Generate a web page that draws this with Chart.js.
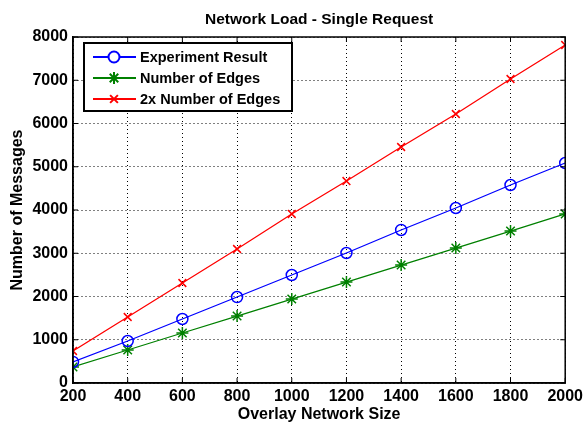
<!DOCTYPE html>
<html>
<head>
<meta charset="utf-8">
<script src="https://cdn.jsdelivr.net/npm/chart.js@4"></script>
<style>
  html, body { margin: 0; padding: 0; background: #fff; }
  #wrap { width: 587px; height: 428px; }
</style>
</head>
<body>
<div id="wrap"><canvas id="loadChart" width="587" height="428"></canvas></div>
<script>
// values
const networkSizes = [200, 400, 600, 800, 1000, 1200, 1400, 1600, 1800, 2000];
const experimentResult = [486, 971, 1480, 1988, 2497, 3006, 3538, 4046, 4578, 5087];
const numberOfEdges = [370, 763, 1156, 1549, 1942, 2335, 2728, 3121, 3514, 3908];
const twiceNumberOfEdges = [740, 1526, 2312, 3098, 3908, 4670, 5457, 6220, 7029, 7815];

const FONT = "'Liberation Sans', Arial, sans-serif";

function toPoints(ys) {
  return networkSizes.map((x, i) => ({ x: x, y: ys[i] }));
}

// MATLAB style box, inward ticks and a boxed legend inside the plot
const matlabFrame = {
  id: "matlabFrame",
  afterDraw(chart) {
    const { ctx, chartArea: a, scales } = chart;
    ctx.save();
    ctx.strokeStyle = "#000";
    ctx.lineWidth = 1;
    ctx.setLineDash([]);
    ctx.beginPath();
    scales.x.ticks.forEach((t) => {
      const px = scales.x.getPixelForValue(t.value);
      ctx.moveTo(px, a.bottom); ctx.lineTo(px, a.bottom - 5);
      ctx.moveTo(px, a.top); ctx.lineTo(px, a.top + 5);
    });
    scales.y.ticks.forEach((t) => {
      const py = scales.y.getPixelForValue(t.value);
      ctx.moveTo(a.left, py); ctx.lineTo(a.left + 5, py);
      ctx.moveTo(a.right, py); ctx.lineTo(a.right - 5, py);
    });
    ctx.stroke();
    ctx.lineWidth = 1.5;
    ctx.strokeRect(a.left, a.top, a.right - a.left, a.bottom - a.top);

    // legend
    const lx = a.left + 11, ly = a.top + 6, lw = 208, lh = 68;
    ctx.fillStyle = "#fff";
    ctx.fillRect(lx, ly, lw, lh);
    ctx.lineWidth = 2;
    ctx.strokeRect(lx, ly, lw, lh);
    ctx.font = "bold 14.5px " + FONT;
    ctx.textBaseline = "middle";
    chart.data.datasets.forEach((ds, i) => {
      const ry = ly + 14 + i * 21;
      ctx.strokeStyle = ds.borderColor;
      ctx.lineWidth = 2;
      ctx.beginPath();
      ctx.moveTo(lx + 9, ry); ctx.lineTo(lx + 52, ry);
      ctx.stroke();
      Chart.helpers.drawPoint(ctx, {
        pointStyle: ds.pointStyle,
        radius: ds.pointRadius,
        borderWidth: ds.pointBorderWidth,
        rotation: 0
      }, lx + 30, ry);
      ctx.fillStyle = "#000";
      ctx.fillText(ds.label, lx + 56, ry + 1);
    });
    ctx.restore();
  }
};

const data = {
  datasets: [
    {
      label: "Experiment Result",
      data: toPoints(experimentResult),
      borderColor: "#0000ff",
      backgroundColor: "rgba(0,0,0,0)",
      borderWidth: 1.3,
      pointStyle: "circle",
      pointRadius: 5.5,
      pointBorderWidth: 1.5,
      pointBorderColor: "#0000ff",
      pointBackgroundColor: "rgba(0,0,0,0)",
    },
    {
      label: "Number of Edges",
      data: toPoints(numberOfEdges),
      borderColor: "#008000",
      backgroundColor: "#008000",
      borderWidth: 1.3,
      pointStyle: "star",
      pointRadius: 6,
      pointBorderWidth: 1.5,
      pointBorderColor: "#008000",
    },
    {
      label: "2x Number of Edges",
      data: toPoints(twiceNumberOfEdges),
      borderColor: "#ff0000",
      backgroundColor: "#ff0000",
      borderWidth: 1.3,
      pointStyle: "crossRot",
      pointRadius: 5.5,
      pointBorderWidth: 1.5,
      pointBorderColor: "#ff0000",
    },
  ],
};

const tickFont = { family: FONT, size: 16, weight: "bold" };
const axisTitleFont = { family: FONT, size: 16, weight: "bold", lineHeight: 1.2 };

const config = {
  type: "line",
  data: data,
  options: {
    responsive: false,
    animation: false,
    layout: { padding: { left: 0, right: 19, top: 0, bottom: 0 } },
    elements: { line: { tension: 0, fill: false } },
    plugins: {
      legend: { display: false },
      tooltip: { enabled: false },
      title: {
        display: true,
        fullSize: false,
        text: "Network Load - Single Request",
        color: "#000",
        font: { family: FONT, size: 15.5, weight: "bold", lineHeight: 1.2 },
        padding: { top: 10, bottom: 8.4 },
      },
    },
    scales: {
      x: {
        type: "linear",
        min: 200,
        max: 2000,
        afterFit: (s) => { s.height = 45; },
        ticks: {
          stepSize: 200,
          color: "#000",
          padding: 4,
          maxRotation: 0,
          font: tickFont,
          callback: (v) => String(v),
        },
        grid: { color: "#000", lineWidth: 1, drawTicks: false },
        border: { display: true, color: "#000", width: 1.5, dash: [1, 3] },
        title: {
          display: true,
          text: "Overlay Network Size",
          color: "#000",
          font: axisTitleFont,
          padding: { top: 0, bottom: 4 },
        },
      },
      y: {
        type: "linear",
        min: 0,
        max: 8000,
        afterFit: (s) => { s.width = 73; },
        ticks: {
          stepSize: 1000,
          color: "#000",
          padding: 5,
          font: tickFont,
          callback: (v) => String(v),
        },
        grid: { color: "#000", lineWidth: 1, drawTicks: false },
        border: { display: true, color: "#000", width: 1.5, dash: [1, 3] },
        title: {
          display: true,
          text: "Number of Messages",
          color: "#000",
          font: axisTitleFont,
          padding: { top: 8, bottom: 0 },
        },
      },
    },
  },
  plugins: [matlabFrame],
};

const loadChart = new Chart(document.getElementById("loadChart"), config);
</script>
</body>
</html>
